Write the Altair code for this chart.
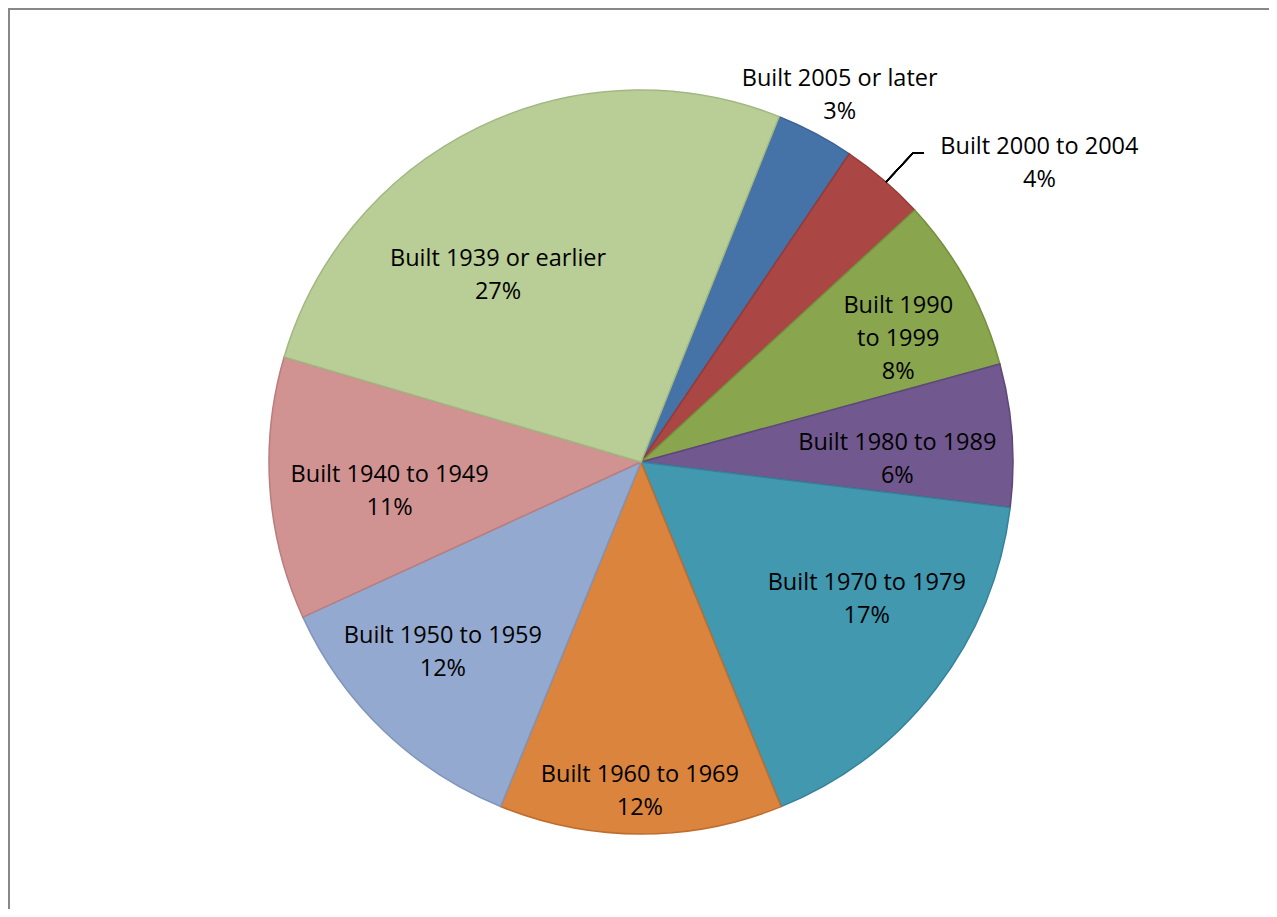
import altair as alt
import pandas as pd

# ---- data ----
categories = ["Built 2005 or later", "Built 2000 to 2004", "Built 1990 to 1999",
              "Built 1980 to 1989", "Built 1970 to 1979", "Built 1960 to 1969",
              "Built 1950 to 1959", "Built 1940 to 1949", "Built 1939 or earlier"]
shares = [3.4, 3.7, 7.6, 6.2, 16.9, 12.3, 12.0, 11.4, 26.5]
pct_labels = ["3%", "4%", "8%", "6%", "17%", "12%", "12%", "11%", "27%"]
name_lines = ["Built 2005 or later", "Built 2000 to 2004", "Built 1990\nto 1999",
              "Built 1980 to 1989", "Built 1970 to 1979", "Built 1960 to 1969",
              "Built 1950 to 1959", "Built 1940 to 1949", "Built 1939 or earlier"]

fills = ["#4572A7", "#AA4643", "#89A54E", "#71588F", "#4198AF",
         "#DB843D", "#93A9CF", "#D19392", "#B9CD96"]
strokes = ["#3A6394", "#943B39", "#748F3E", "#5E4879", "#35819A",
           "#BF6E2D", "#7F95BC", "#BA7D7C", "#A2B882"]

df = pd.DataFrame({
    "cat": categories,
    "share": shares,
    "idx": list(range(len(categories))),
    "label": [n + "\n" + p for n, p in zip(name_lines, pct_labels)],
})

START = 0.3805  # first slice begins ~22 degrees clockwise of 12 o'clock
TWO_PI = 6.283185307
theta_scale = alt.Scale(range=[START, START + TWO_PI])

W, H = 1261, 901
CX, CY = 633, 454
FONT = "Open Sans"

base = alt.Chart(df)

arcs = base.mark_arc(outerRadius=372, strokeWidth=1.5).encode(
    theta=alt.Theta("share:Q", stack=True, scale=theta_scale),
    order=alt.Order("idx:Q"),
    color=alt.Color("cat:N", scale=alt.Scale(domain=categories, range=fills), legend=None),
    stroke=alt.Stroke("cat:N", scale=alt.Scale(domain=categories, range=strokes), legend=None),
    x=alt.value(CX), y=alt.value(CY),
)


def label_layer(name, radius, dx=0, dy=0):
    return base.transform_calculate(
        txt=f"datum.cat === '{name}' ? datum.label : ''"
    ).mark_text(
        radius=radius, dx=dx, dy=dy, font=FONT, fontSize=23.5, color="black",
        lineBreak="\n", lineHeight=33, align="center", baseline="middle",
    ).encode(
        theta=alt.Theta("share:Q", stack=True, scale=theta_scale),
        order=alt.Order("idx:Q"),
        detail="cat:N",
        text="txt:N",
        x=alt.value(CX), y=alt.value(CY),
    )


# label placement (radius from pie centre, nudge) as Excel's best-fit put them
placement = {
    "Built 2005 or later": (420, 2, -12),
    "Built 2000 to 2004": (430, 118, 11),
    "Built 1990 to 1999": (286, 7, -18),
    "Built 1980 to 1989": (256, 1, -1),
    "Built 1970 to 1979": (263, 17, -39),
    "Built 1960 to 1969": (326, -1, -13),
    "Built 1950 to 1959": (272, -10, -22),
    "Built 1940 to 1949": (252, 0, -5),
    "Built 1939 or earlier": (238, -39, 11),
}
labels = [label_layer(n, *placement[n]) for n in categories]

# leader line for the "2000 to 2004" label
leader1 = base.mark_rule(color="black", strokeWidth=1.2).encode(
    x=alt.value(878), y=alt.value(174), x2=alt.value(905), y2=alt.value(145))
leader2 = base.mark_rule(color="black", strokeWidth=1.2).encode(
    x=alt.value(905), y=alt.value(145), x2=alt.value(916), y2=alt.value(145))

# chart-area border (left and top edges visible in reference)
border_left = base.mark_rule(color="#888888", strokeWidth=2).encode(
    x=alt.value(1), y=alt.value(0), y2=alt.value(H))
border_top = base.mark_rule(color="#888888", strokeWidth=2).encode(
    x=alt.value(0), x2=alt.value(W), y=alt.value(1))

chart = alt.layer(arcs, *labels, leader1, leader2, border_left, border_top).properties(
    width=W, height=H,
    autosize=alt.AutoSizeParams(type="none"),
    padding=0,
    background="white",
).configure_view(stroke=None)

chart.save("out.html", embed_options={"renderer": "svg", "actions": False})
